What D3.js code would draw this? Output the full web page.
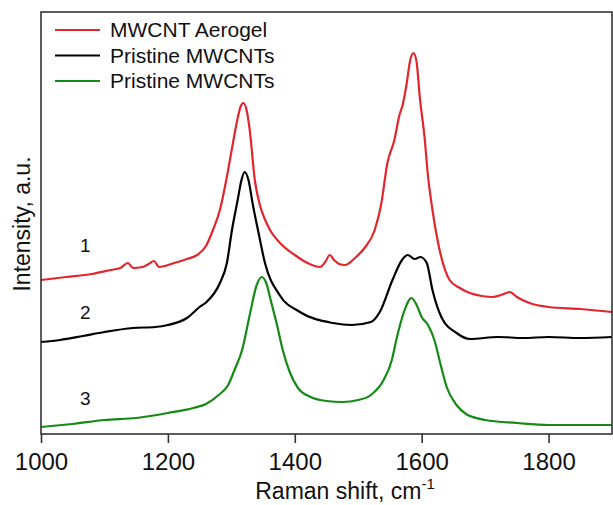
<!DOCTYPE html>
<html>
<head>
<meta charset="utf-8">
<script src="https://cdn.jsdelivr.net/npm/d3@7"></script>
<style>
  body { margin: 0; background: #fff; }
  text { font-family: "Liberation Sans", Arial, sans-serif; fill: #111; }
</style>
</head>
<body>
<svg id="chart" width="613" height="505"></svg>
<script>
// spectra: [Raman shift, intensity a.u.]
const aerogel = [
  [1000,154],[1040,157],[1080,160],[1110,164],[1125,166],[1137,171],[1145,166],[1160,167],
  [1170,170],[1178,173],[1186,167],[1195,168],[1210,171],[1230,175],[1246,179],[1260,188],
  [1271,204],[1282,224],[1292,254],[1302,289],[1310,316],[1315,328],[1319,331],[1324,324],
  [1329,304],[1337,254],[1345,229],[1352,216],[1361,204],[1380,189],[1400,179],[1420,171],
  [1440,167],[1448,172],[1455,179],[1462,174],[1470,170],[1479,169],[1495,176],[1510,186],
  [1526,204],[1536,229],[1546,271],[1557,294],[1565,319],[1570,329],[1576,349],[1582,374],
  [1587,381],[1592,372],[1597,337],[1605,294],[1609,264],[1617,224],[1625,194],[1644,154],
  [1660,146],[1676,141],[1695,138],[1712,137],[1725,139],[1739,142],[1750,137],[1770,131],
  [1800,127],[1850,125],[1900,122]
]
const pristine = [
  [1000,92],[1030,94],[1066,98],[1100,102],[1145,106],[1180,107],[1200,109],[1230,116],
  [1250,127],[1261,132],[1282,151],[1293,171],[1301,204],[1310,234],[1316,254],[1321,262],
  [1327,254],[1334,229],[1342,204],[1353,171],[1376,139],[1408,122],[1460,111],[1490,109],
  [1520,112],[1534,122],[1554,154],[1569,174],[1578,179],[1589,175],[1598,177],[1608,171],
  [1617,144],[1631,117],[1655,101],[1676,95],[1720,97],[1760,96],[1800,97],[1850,96],[1900,97]
]
const pristine2 = [
  [1000,7],[1050,10],[1100,14],[1150,16],[1200,21],[1240,26],[1260,30],[1280,39],[1295,49],
  [1305,64],[1317,84],[1329,119],[1340,149],[1348,157],[1355,151],[1362,134],[1372,109],
  [1381,84],[1392,62],[1405,46],[1425,37],[1450,33],[1475,32],[1500,34],[1520,39],[1540,54],
  [1553,74],[1560,94],[1572,122],[1584,136],[1592,129],[1600,117],[1610,109],[1620,94],
  [1630,69],[1640,46],[1655,29],[1670,20],[1700,14],[1750,11],[1800,9],[1900,9]
]

const seriesNames = ["MWCNT Aerogel", "Pristine MWCNTs", "Pristine MWCNTs"]
const seriesColors = ["#e3262d", "#000000", "#168a16"]
const curveLabels = ["1", "2", "3"]
const curveLabelAt = [[1070, 182], [1070, 115], [1070, 29]]
const xTicks = [1000, 1200, 1400, 1600, 1800]

const svg = d3.select("#chart")
const margin = {left: 41, top: 12, right: 1, bottom: 71}
const W = 613, H = 505

const x = d3.scaleLinear().domain([1000, 1900]).range([margin.left, W - margin.right])
const y = d3.scaleLinear().domain([0, 422]).range([H - margin.bottom, margin.top])

const line = d3.line()
    .x(d => x(d[0]))
    .y(d => y(d[1]))
    .curve(d3.curveMonotoneX)

const allSeries = [aerogel, pristine, pristine2]

allSeries.forEach((s, i) => {
  svg.append("path")
    .datum(s)
    .attr("fill", "none")
    .attr("stroke", seriesColors[i])
    .attr("stroke-width", 2.2)
    .attr("stroke-linejoin", "round")
    .attr("d", line)
})

// frame
svg.append("rect")
    .attr("x", margin.left)
    .attr("y", margin.top)
    .attr("width", W - margin.right - margin.left)
    .attr("height", H - margin.bottom - margin.top)
    .attr("fill", "none")
    .attr("stroke", "#333")
    .attr("stroke-width", 1.6)

// bottom axis, major + minor ticks
const xAxis = svg.append("g")
    .attr("transform", "translate(0," + (H - margin.bottom) + ")")
xAxis.call(d3.axisBottom(x).tickValues(d3.range(1000, 1901, 100)).tickSize(5).tickFormat(""))
xAxis.call(d3.axisBottom(x).tickValues(xTicks).tickSize(9).tickPadding(10).tickFormat(d3.format("d")))
xAxis.selectAll(".domain").remove()
xAxis.selectAll("line").attr("stroke", "#333").attr("stroke-width", 1.6)
xAxis.selectAll("text")
    .attr("font-size", 24)
    .attr("fill", "#111")
    .style("font-family", "'Liberation Sans', Arial, sans-serif")

// axis titles
const xt = svg.append("text")
    .attr("x", 345)
    .attr("y", 499)
    .attr("text-anchor", "middle")
    .attr("font-size", 23)
xt.append("tspan").text("Raman shift, cm")
xt.append("tspan").text("-1").attr("font-size", 15).attr("dy", -10)

svg.append("text")
    .attr("transform", "translate(30,224) rotate(-90)")
    .attr("text-anchor", "middle")
    .attr("font-size", 23)
    .text("Intensity, a.u.")

// legend
const legend = svg.append("g")
seriesNames.forEach((n, i) => {
  const ly = 30 + i * 25.5
  legend.append("line")
    .attr("x1", 55).attr("x2", 100)
    .attr("y1", ly).attr("y2", ly)
    .attr("stroke", seriesColors[i])
    .attr("stroke-width", 2.2)
  legend.append("text")
    .attr("x", 110)
    .attr("y", ly + 7)
    .attr("font-size", 21)
    .text(n)
})

// curve numbers
curveLabels.forEach((t, i) => {
  svg.append("text")
    .attr("x", x(curveLabelAt[i][0]))
    .attr("y", y(curveLabelAt[i][1]))
    .attr("text-anchor", "middle")
    .attr("font-size", 19)
    .text(t)
})
</script>
</body>
</html>
